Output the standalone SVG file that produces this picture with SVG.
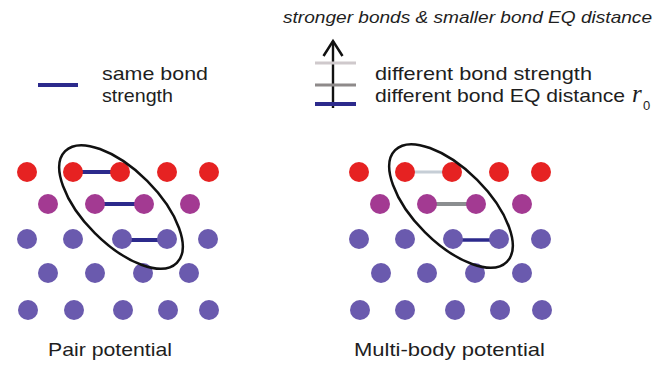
<svg xmlns="http://www.w3.org/2000/svg" width="661" height="368" viewBox="0 0 661 368">
<style>
.t{font-family:"Liberation Sans",Arial,sans-serif;font-size:19px;fill:#1e1e1e;}
.ti{font-family:"Liberation Sans",Arial,sans-serif;font-size:16.5px;font-style:italic;fill:#1e1e1e;}
.red{fill:#e62222;}
.mag{fill:#a33a92;}
.vio{fill:#6a5aae;}
.ell{fill:none;stroke:#111;stroke-width:2.5;}
.bb{stroke:#2c2a8c;stroke-width:4;}
</style>
<defs>
<marker id="ah" markerWidth="24" markerHeight="24" refX="17" refY="12" orient="auto" markerUnits="userSpaceOnUse" viewBox="0 0 24 24">
<path d="M2,2.5 L17,12 L2,21.5" fill="none" stroke="#111" stroke-width="2.5" stroke-linejoin="miter"/>
</marker>
</defs>
<rect width="661" height="368" fill="#fff"/>

<g id="connectors">
<line class="bb" x1="73" y1="172" x2="120" y2="172"/>
<line class="bb" x1="95" y1="204" x2="144" y2="204"/>
<line class="bb" x1="122" y1="240" x2="167" y2="240"/>
<line x1="405" y1="172" x2="452" y2="172" stroke="#c6ced6" stroke-width="3"/>
<line x1="427" y1="204" x2="476" y2="204" stroke="#8b8e90" stroke-width="4"/>
<line x1="453" y1="240" x2="499" y2="240" stroke="#2c2a8c" stroke-width="3.5"/>
<line x1="333" y1="108" x2="333" y2="41" stroke="#111" stroke-width="2.4" marker-end="url(#ah)"/>
</g>

<g id="legend-left">
<line class="bb" x1="38" y1="85" x2="78" y2="85"/>
<text class="t" x="102" y="80" textLength="106" lengthAdjust="spacingAndGlyphs">same bond</text>
<text class="t" x="102" y="102" textLength="71" lengthAdjust="spacingAndGlyphs">strength</text>
</g>

<g id="legend-right">
<line x1="315" y1="63" x2="356" y2="63" stroke="#cfc9cc" stroke-width="3"/>
<line x1="315" y1="85" x2="356" y2="85" stroke="#8e8a8a" stroke-width="3"/>
<line x1="315" y1="104" x2="356" y2="104" stroke="#2c2a8c" stroke-width="4"/>
<text class="t" x="375" y="80" textLength="217" lengthAdjust="spacingAndGlyphs">different bond strength</text>
<text class="t" x="375" y="102" textLength="250" lengthAdjust="spacingAndGlyphs">different bond EQ distance</text>
<text x="632" y="102" font-family="'Liberation Serif','Times New Roman',serif" font-style="italic" font-size="25" fill="#1e1e1e">r</text>
<text x="643" y="110" font-family="'Liberation Sans',Arial,sans-serif" font-size="13" fill="#1e1e1e">0</text>
</g>

<g id="title">
<text class="ti" x="283" y="23" textLength="369" lengthAdjust="spacingAndGlyphs">stronger bonds &amp; smaller bond EQ distance</text>
</g>

<g id="pair-panel">
<circle class="red" cx="27" cy="172" r="10"/>
<circle class="red" cx="73" cy="172" r="10"/>
<circle class="red" cx="120" cy="172" r="10"/>
<circle class="red" cx="167" cy="172" r="10"/>
<circle class="red" cx="209" cy="172" r="10"/>
<circle class="mag" cx="48" cy="204" r="10"/>
<circle class="mag" cx="95" cy="204" r="10"/>
<circle class="mag" cx="144" cy="204" r="10"/>
<circle class="mag" cx="190" cy="204" r="10"/>
<circle class="vio" cx="27" cy="239" r="10"/>
<circle class="vio" cx="73" cy="239" r="10"/>
<circle class="vio" cx="122" cy="239" r="10"/>
<circle class="vio" cx="167" cy="239" r="10"/>
<circle class="vio" cx="208" cy="239" r="10"/>
<circle class="vio" cx="48" cy="273" r="10"/>
<circle class="vio" cx="95" cy="273" r="10"/>
<circle class="vio" cx="143" cy="273" r="10"/>
<circle class="vio" cx="189" cy="273" r="10"/>
<circle class="vio" cx="28" cy="310" r="10"/>
<circle class="vio" cx="74" cy="310" r="10"/>
<circle class="vio" cx="123" cy="310" r="10"/>
<circle class="vio" cx="168" cy="310" r="10"/>
<circle class="vio" cx="209" cy="310" r="10"/>
<ellipse class="ell" cx="121" cy="207" rx="79" ry="37" transform="rotate(45 121 207)"/>
<text class="t" x="48" y="356" textLength="124" lengthAdjust="spacingAndGlyphs">Pair potential</text>
</g>

<g id="multibody-panel">
<circle class="red" cx="359" cy="172" r="10"/>
<circle class="red" cx="405" cy="172" r="10"/>
<circle class="red" cx="452" cy="172" r="10"/>
<circle class="red" cx="499" cy="172" r="10"/>
<circle class="red" cx="541" cy="172" r="10"/>
<circle class="mag" cx="380" cy="204" r="10"/>
<circle class="mag" cx="427" cy="204" r="10"/>
<circle class="mag" cx="476" cy="204" r="10"/>
<circle class="mag" cx="522" cy="204" r="10"/>
<circle class="vio" cx="359" cy="239" r="10"/>
<circle class="vio" cx="405" cy="239" r="10"/>
<circle class="vio" cx="453" cy="239" r="10"/>
<circle class="vio" cx="499" cy="239" r="10"/>
<circle class="vio" cx="541" cy="239" r="10"/>
<circle class="vio" cx="381" cy="273" r="10"/>
<circle class="vio" cx="427" cy="273" r="10"/>
<circle class="vio" cx="475" cy="273" r="10"/>
<circle class="vio" cx="522" cy="273" r="10"/>
<circle class="vio" cx="360" cy="310" r="10"/>
<circle class="vio" cx="405" cy="310" r="10"/>
<circle class="vio" cx="455" cy="310" r="10"/>
<circle class="vio" cx="500" cy="310" r="10"/>
<circle class="vio" cx="542" cy="310" r="10"/>
<ellipse class="ell" cx="451" cy="206" rx="79" ry="37" transform="rotate(45 451 206)"/>
<text class="t" x="354" y="356" textLength="191" lengthAdjust="spacingAndGlyphs">Multi-body potential</text>
</g>
</svg>
